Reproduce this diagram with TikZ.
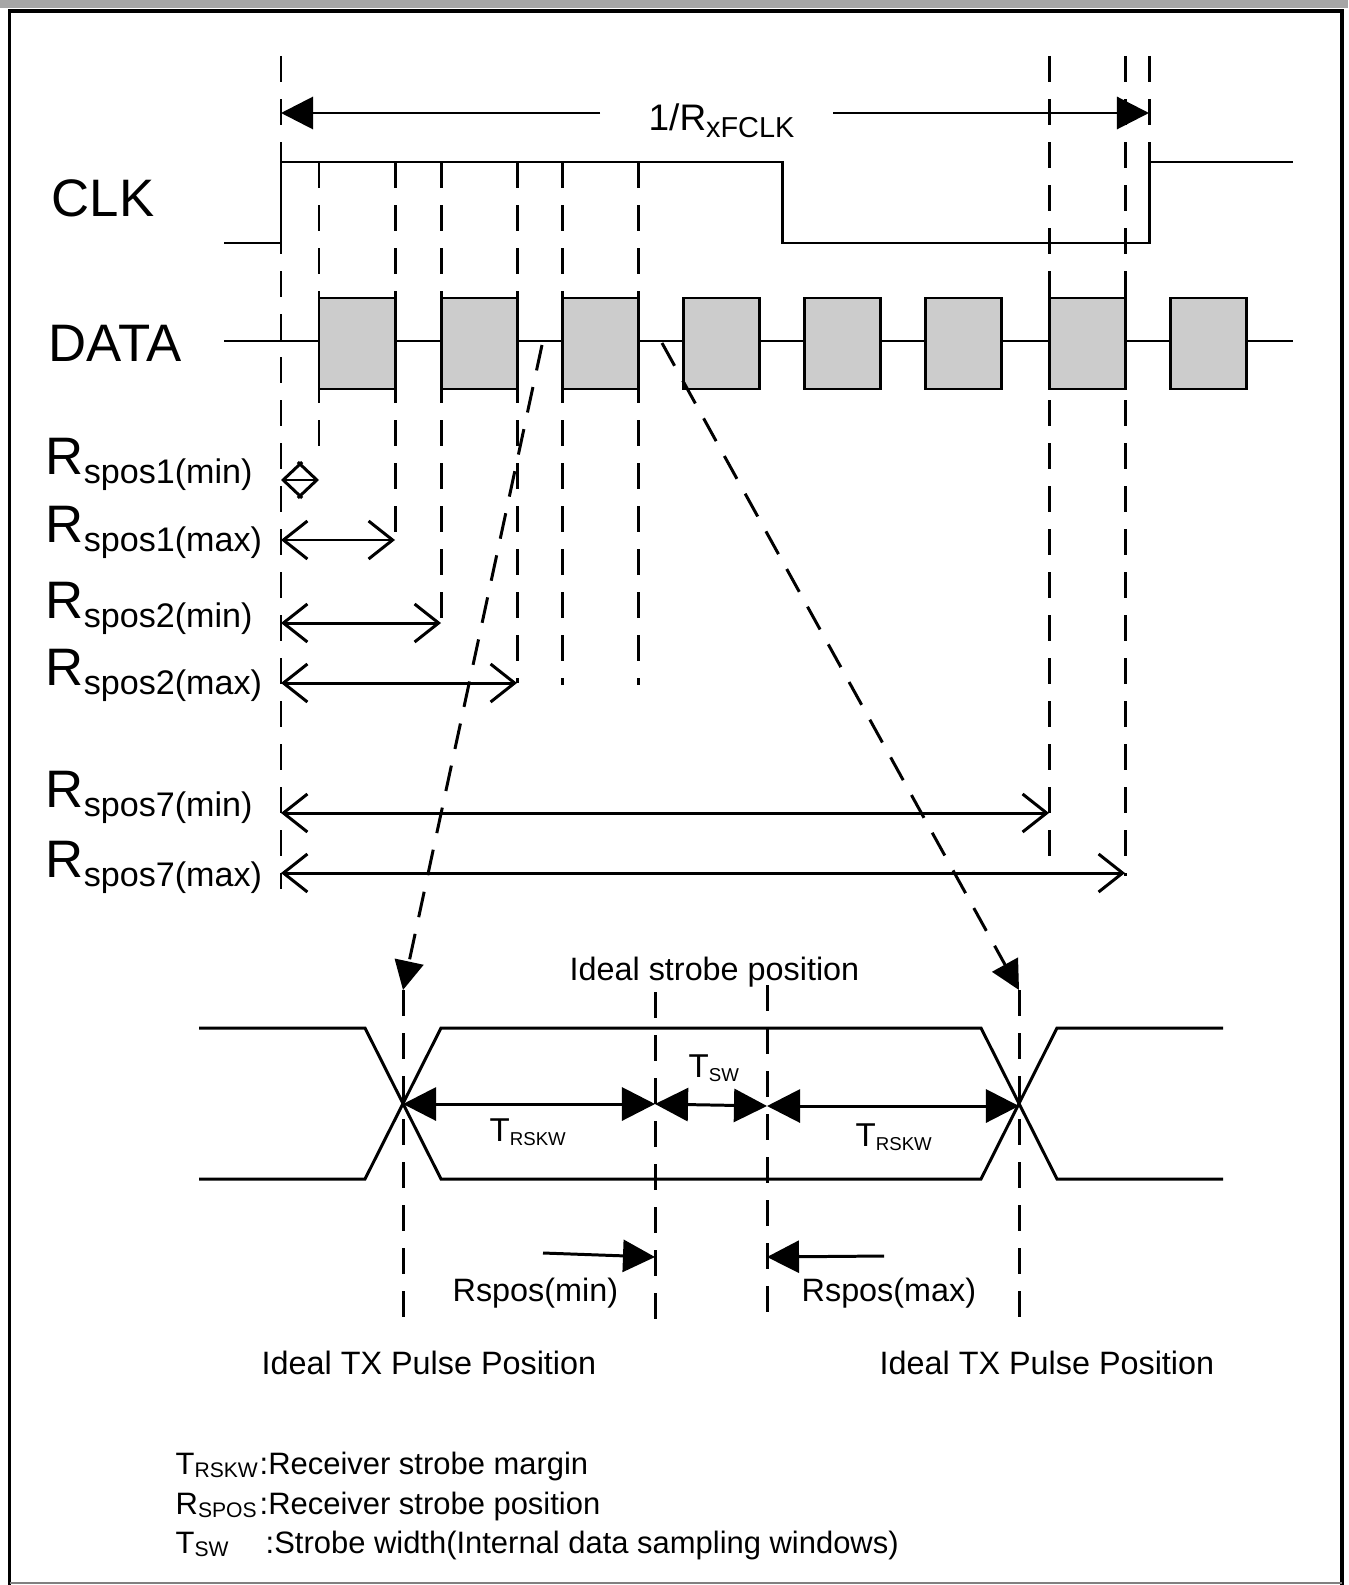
\documentclass[tikz,border=0pt]{standalone}
\usepackage{fontspec}
\setmainfont{Liberation Sans}
\usetikzlibrary{arrows.meta}

\newcommand{\bigsz}{\fontsize{15}{18}\selectfont}
\newcommand{\subsz}{\fontsize{9.7}{11}\selectfont}
\newcommand{\labsz}{\fontsize{9.2}{11}\selectfont}
\newcommand{\legsz}{\fontsize{8.8}{10}\selectfont}
\newcommand{\legsub}{\fontsize{6}{7}\selectfont}
% R with its position subscript
\newcommand{\Rsp}[1]{{\bigsz R}\raisebox{-0.09cm}{\subsz spos#1}}
% small T with tiny subscript
\newcommand{\Tlow}[1]{{\fontsize{9.4}{11}\selectfont T}\raisebox{-0.04cm}{\fontsize{5.3}{6}\selectfont #1}}

\tikzset{
	wave/.style={line width=0.85pt},
	databox/.style={wave, fill=black!20},
	guide/.style={line width=0.85pt, dash pattern=on 0.26cm off 0.17cm},
	span/.style={line width=0.85pt, {Straight Barb[length=0.24cm,width=0.38cm]}-{Straight Barb[length=0.24cm,width=0.38cm]}},
	shortspan/.style={line width=0.85pt, {Straight Barb[length=0.19cm,width=0.36cm]}-{Straight Barb[length=0.19cm,width=0.36cm]}},
	dim/.style={line width=0.85pt, {Triangle[length=0.33cm,width=0.33cm]}-{Triangle[length=0.33cm,width=0.33cm]}},
	onetip/.style={line width=0.85pt, -{Triangle[length=0.32cm,width=0.32cm]}},
	txt/.style={inner sep=0pt, anchor=base west},
}

\begin{document}
\begin{tikzpicture}[x=0.01cm, y=-0.01cm]
	\useasboundingbox (0,0) rectangle (1348,1585);
	
	% frame
	\fill[black!35] (0,0) rectangle (1348,8);
	\draw[line width=1.1pt] (9.5,1585) -- (9.5,11) -- (1342,11) -- (1342,1585);
	\draw[black!50, line width=0.6pt] (9.5,1583) -- (1342,1583);
	
	% period
	\coordinate (p0) at (281,113);
	\coordinate (p1) at (1149,113);
	\node[txt] (period) at (648,131) {{\fontsize{10.5}{12}\selectfont 1/R}\raisebox{-0.06cm}{\fontsize{8.2}{9}\selectfont xFCLK}};
	\draw[onetip] (600,113) -- (p0);
	\draw[onetip] (833,113) -- (p1);
	
	% clock and data
	\draw[wave] (224,243) -- (281,243) -- (281,162) -- (782,162) -- (782,243) -- (1149,243) -- (1149,162) -- (1293,162);
	\draw[wave] (224,341) -- (1293,341);
	\foreach \bx in {319,441,562,683,804,925,1049,1170}
		\draw[databox] (\bx,298) rectangle ++(76,91);
	
	\node[txt] (clk) at (51,217) {\bigsz CLK};
	\node[txt] (data) at (48,361) {\bigsz DATA};
	
	% strobe guides
	\draw[guide] (281,56) -- (281,889);
	\foreach \gx/\gy in {319/463,395/540,441/623,517/683,562/685,638/685}
		\draw[guide] (\gx,162) -- (\gx,\gy);
	\draw[guide] (1049,56) -- (1049,870);
	\draw[guide] (1125,56) -- (1125,876);
	\draw[guide] (1149,56) -- (1149,162);
	
	% strobe positions
	\node[txt] (s1min) at (45,474) {\Rsp{1(min)}};
	\node[txt] (s1max) at (45,542) {\Rsp{1(max)}};
	\node[txt] (s2min) at (45,618) {\Rsp{2(min)}};
	\node[txt] (s2max) at (45,685) {\Rsp{2(max)}};
	\node[txt] (s7min) at (45,807) {\Rsp{7(min)}};
	\node[txt] (s7max) at (45,877) {\Rsp{7(max)}};
	\draw[shortspan] (281,480) -- (319,480);
	\draw[span] (281,540) -- (395,540);
	\draw[span] (281,623) -- (441,623);
	\draw[span] (281,683) -- (517,683);
	\draw[span] (281,813) -- (1049,813);
	\draw[span] (281,873) -- (1125,873);
	
	% eye diagram
	\coordinate (xl) at (403,1104);
	\coordinate (sl) at (655,1104);
	\coordinate (sr) at (767,1106);
	\coordinate (xr) at (1019,1106);
	\draw[wave] (199,1028) -- (365,1028) -- (441,1179) -- (981,1179) -- (1057,1028) -- (1223,1028);
	\draw[wave] (199,1179) -- (365,1179) -- (441,1028) -- (981,1028) -- (1057,1179) -- (1223,1179);
	
	\draw[guide] (403,990) -- (403,1324);
	\draw[guide] (655,992) -- (655,1325);
	\draw[guide] (767,985) -- (767,1325);
	\draw[guide] (1019,990) -- (1019,1324);
	
	% zoom lines
	\draw[guide, -{Triangle[length=0.29cm,width=0.29cm]}] (542,345) -- (403,990);
	\draw[guide, -{Triangle[length=0.29cm,width=0.29cm]}] (662,343) -- (1019,990);
	
	\draw[dim] (xl) -- (sl);
	\draw[dim] (sl) -- (sr);
	\draw[dim] (sr) -- (xr);
	
	\node[txt] (strobe) at (569,980) {\labsz Ideal strobe position};
	\node[txt] (rskwl) at (489,1141) {\Tlow{RSKW}};
	\node[txt] (tsw) at (688,1077) {\Tlow{SW}};
	\node[txt] (rskwr) at (855,1146) {\Tlow{RSKW}};
	
	\node[txt] (rmin) at (452,1301) {\labsz Rspos(min)};
	\node[txt] (rmax) at (801,1301) {\labsz Rspos(max)};
	\draw[onetip] (543,1253) -- (655,1257);
	\draw[onetip] (884,1256) -- (767,1257);
	
	\node[txt] (txl) at (261,1374) {\labsz Ideal TX Pulse Position};
	\node[txt] (txr) at (879,1374) {\labsz Ideal TX Pulse Position};
	
	% legend
	\node[txt] (lg1) at (175,1474) {\legsz T\raisebox{-0.03cm}{\legsub RSKW}};
	\node[txt] (lg1t) at (259,1474) {\legsz :Receiver strobe margin};
	\node[txt] (lg2) at (175,1514) {\legsz R\raisebox{-0.03cm}{\legsub SPOS}};
	\node[txt] (lg2t) at (259,1514) {\legsz :Receiver strobe position};
	\node[txt] (lg3) at (175,1553) {\legsz T\raisebox{-0.03cm}{\legsub SW}};
	\node[txt] (lg3t) at (265,1553) {\legsz :Strobe width(Internal data sampling windows)};
	
\end{tikzpicture}
\end{document}
